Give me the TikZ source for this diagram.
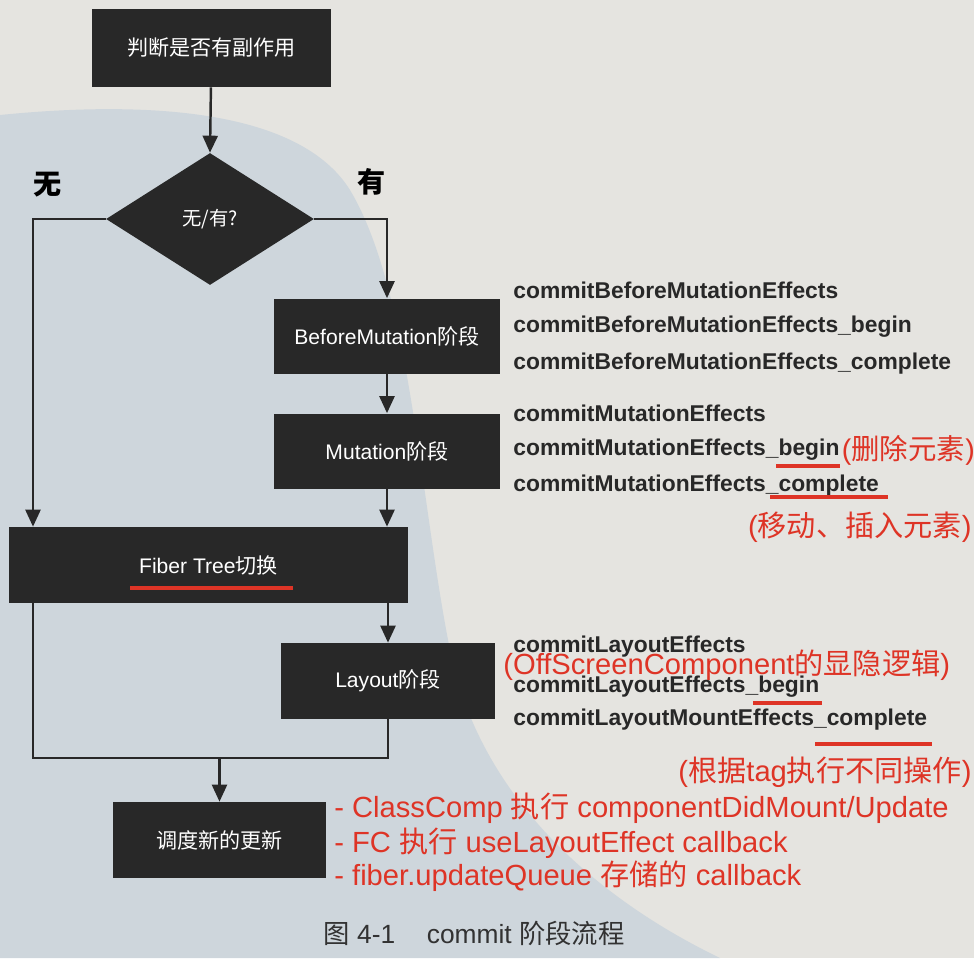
\documentclass[tikz,border=0pt]{standalone}
\usepackage{fontspec}
\usepackage{tikz}
\usetikzlibrary{arrows.meta,shapes.geometric}
\setmainfont{Liberation Sans}
\newfontfamily\cjk{Noto Sans CJK SC}
\newcommand\zh[1]{{\cjk #1}}
\definecolor{paper}{RGB}{229,228,224}
\definecolor{bluepaper}{RGB}{206,214,220}
\definecolor{boxc}{RGB}{40,40,40}
\definecolor{redc}{RGB}{222,52,38}
\definecolor{capc}{RGB}{50,50,50}

\begin{document}
\begin{tikzpicture}[x=0.02cm,y=-0.02cm,
	stage/.style={draw=none,fill=boxc,text=white,inner sep=0,font=\fontsize{12}{14}\selectfont},
	arrow/.style={line width=1.4pt,draw=boxc,-{Triangle[length=0.34cm,width=0.3cm]}},
	link/.style={line width=1.4pt,draw=boxc},
	code/.style={anchor=west,inner sep=0,text=boxc,font=\bfseries\fontsize{13}{15}\selectfont},
	note/.style={anchor=west,inner sep=0,text=redc,font=\fontsize{16.6}{19}\selectfont},
	redline/.style={draw=redc,line width=2.8pt}]
			\useasboundingbox (0,0) rectangle (974,958);
			\fill[paper] (0,0) rectangle (974,958);
			\fill[bluepaper] (0,115) .. controls (150,100) and (300,110) .. (350,190)
				.. controls (410,290) and (420,500) .. (450,650)
				.. controls (480,800) and (600,900) .. (720,958) -- (0,958) -- cycle;

			% boxes
			\node[stage,minimum width=4.78cm,minimum height=1.56cm] (check) at (211.5,48) {\zh{判断是否有副作用}};
			\node[stage,diamond,aspect=1.58,minimum width=4.16cm,minimum height=2.64cm,font=\fontsize{11}{13}\selectfont] (decide) at (210,219) {\zh{无/有?}};
			\node[stage,minimum width=4.52cm,minimum height=1.5cm] (before) at (387,336) {BeforeMutation\zh{阶段}};
			\node[stage,minimum width=4.52cm,minimum height=1.5cm] (mutation) at (387,451) {Mutation\zh{阶段}};
			\node[stage,minimum width=8cm,minimum height=1.52cm] (fiber) at (208.5,565) {Fiber Tree\zh{切换}};
			\node[stage,minimum width=4.28cm,minimum height=1.52cm] (layout) at (388,681) {Layout\zh{阶段}};
			\node[stage,minimum width=4.26cm,minimum height=1.52cm] (sched) at (219.5,840) {\zh{调度新的更新}};

			\node[font=\cjk\bfseries\fontsize{16}{18}\selectfont] (no) at (48,185) {无};
			\node[font=\cjk\bfseries\fontsize{16}{18}\selectfont] (yes) at (372,182) {有};

			% connectors
			\coordinate (leftx) at (33,0);
			\coordinate (join) at (219.5,758);
			\draw[arrow] (check) -- (decide.north);
			\draw[arrow] (decide.west) -| (leftx |- fiber.north);
			\draw[arrow] (decide.east) -| (before.north);
			\draw[arrow] (before) -- (mutation);
			\draw[arrow] (mutation.south) -- (mutation.south |- fiber.north);
			\draw[arrow] (layout.north |- fiber.south) -- (layout.north);
			\draw[link] (leftx |- fiber.south) |- (layout.south |- join) -- (layout.south);
			\draw[arrow] (join) -- (sched.north);

			% function names
			\node[code] (bm1) at (513,290) {commitBeforeMutationEffects};
			\node[code] (bm2) at (513,327) {commitBeforeMutationEffects\_begin};
			\node[code] (bm3) at (513,364) {commitBeforeMutationEffects\_complete};
			\node[code] (m1) at (513,413) {commitMutationEffects};
			\node[code] (m2) at (513,450) {commitMutationEffects\_begin};
			\node[code] (m3) at (513,486) {commitMutationEffects\_complete};
			\node[code] (l1) at (513,647) {commitLayoutEffects};
			\node[code] (l2) at (513,687) {commitLayoutEffects\_begin};
			\node[code] (l3) at (513,720) {commitLayoutMountEffects\_complete};

			% notes
			\node[note,font=\fontsize{16.2}{19}\selectfont,xshift=1pt] (del) at (m2.east) {(\zh{删除元素})};
			\node[note,anchor=east] (ins) at (972,527) {(\zh{移动、插入元素})};
			\node[note] (off) at (503,665) {(OffScreenComponent\zh{的显隐逻辑})};
			\node[note,anchor=east] (tag) at (972,772) {(\zh{根据}tag\zh{执行不同操作})};
			\node[note] (r1) at (334,808) {- ClassComp \zh{执行} componentDidMount/Update};
			\node[note] (r2) at (334,843) {- FC \zh{执行} useLayoutEffect callback};
			\node[note] (r3) at (334,876) {- fiber.updateQueue \zh{存储的} callback};

			\draw[redline] (776,466) -- (840,466);
			\draw[redline] (130,588) -- (293,588);
			\draw[redline] (770,497) -- (888,497);
			\draw[redline] (753,703) -- (822,703);
			\draw[redline] (815,744) -- (932,744);

			\node[text=capc,font=\fontsize{15}{17}\selectfont] (caption) at (474,933) {\zh{图} 4-1\hspace{1.2em}commit \zh{阶段流程}};
\end{tikzpicture}
\end{document}
